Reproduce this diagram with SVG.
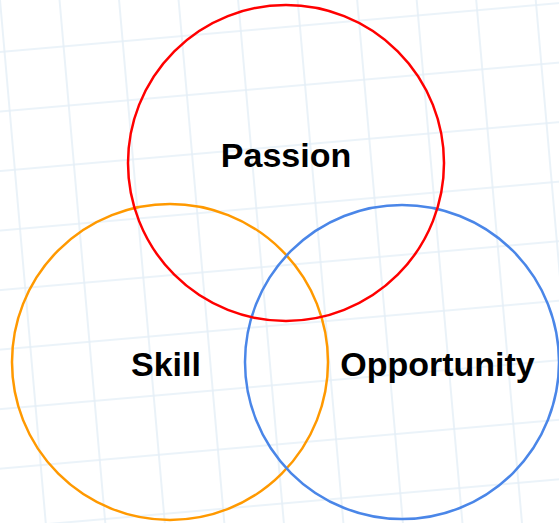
<svg xmlns="http://www.w3.org/2000/svg" width="559" height="523" viewBox="0 0 559 523">
  <defs>
    <pattern id="grid" patternUnits="userSpaceOnUse" x="-29.65" y="22.15" width="59.3" height="59.3" patternTransform="rotate(-5)">
      <path d="M29.65 0V59.3M0 29.65H59.3" stroke="#e5eff7" stroke-width="1.6" fill="none"/>
    </pattern>
  </defs>
  <style>
    .ring { fill: none; stroke-width: 2.5; }
    .label { font-family: "Liberation Sans", Arial, sans-serif; font-weight: bold; font-size: 34px; fill: #000; text-anchor: middle; }
  </style>
  <rect width="559" height="523" fill="#ffffff"/>
  <rect width="559" height="523" fill="url(#grid)"/>
  <g id="connectors"/>
  <g id="skill">
    <circle class="ring" cx="170" cy="362" r="158" stroke="#ff9900"/>
    <text class="label" x="166" y="376">Skill</text>
  </g>
  <g id="opportunity">
    <circle class="ring" cx="402" cy="362" r="157" stroke="#4a86e8"/>
    <text class="label" x="437.5" y="376">Opportunity</text>
  </g>
  <g id="passion">
    <circle class="ring" cx="286" cy="163" r="158" stroke="#ff0000"/>
    <text class="label" x="286" y="167">Passion</text>
  </g>
</svg>
